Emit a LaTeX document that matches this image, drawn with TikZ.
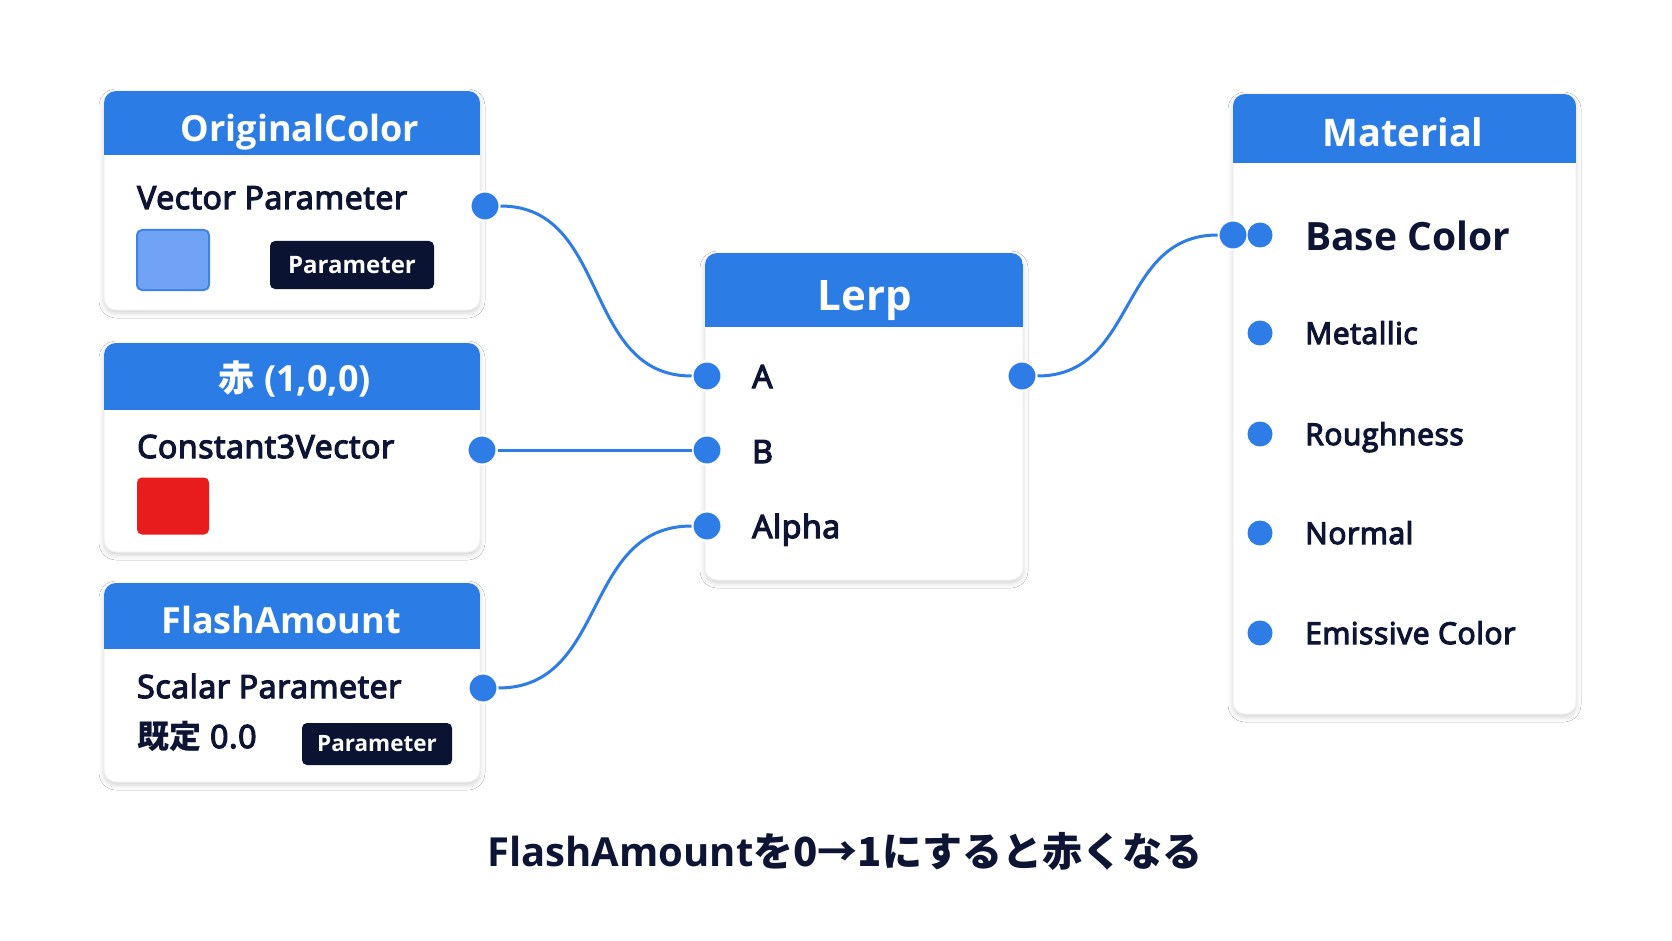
\documentclass[tikz,border=0pt]{standalone}
\usepackage{fontspec}
\setmainfont{Open Sans}
\newfontfamily\medfont[FakeBold=4, LetterSpace=2]{Open Sans}
\newfontfamily\jpfont{Noto Sans CJK JP}
\usetikzlibrary{positioning, calc, shadows.blur}
\definecolor{HeaderBlue}{RGB}{44, 124, 229}
\definecolor{PortBlue}{RGB}{46, 125, 230}
\definecolor{InkNavy}{RGB}{14, 21, 52}
\definecolor{BadgeNavy}{RGB}{10, 20, 50}
\definecolor{SwatchBlue}{RGB}{112, 163, 243}
\definecolor{SwatchEdge}{RGB}{62, 132, 229}
\definecolor{SwatchRed}{RGB}{232, 28, 28}

\tikzset{
  panel/.style={fill=white, draw=black!6, line width=1pt, rounded corners=12pt,
                blur shadow={shadow xshift=0pt, shadow yshift=-3pt, shadow blur radius=5pt, shadow opacity=18}},
  bartitle/.style={text=white, anchor=base, inner sep=0pt, font=\bfseries\fontsize{36}{44}\selectfont},
  bodytext/.style={text=InkNavy, anchor=base west, inner sep=0pt, font=\medfont\fontsize{32}{40}\selectfont},
  badge/.style={fill=BadgeNavy, text=white, rounded corners=5pt, inner sep=0pt,
                font=\bfseries\fontsize{24}{30}\selectfont},
  swatch/.style={rounded corners=5pt, inner sep=0pt, minimum width=72pt},
  port/.style={circle, fill=PortBlue, draw=white, line width=2pt, minimum size=29pt, inner sep=0pt},
  dot/.style={circle, fill=PortBlue, minimum size=25pt, inner sep=0pt},
  wire/.style={draw=PortBlue, line width=3pt},
}

\begin{document}
\begin{tikzpicture}[x=1pt, y=-1pt]
  \useasboundingbox[fill=white] (0,0) rectangle (1672,941);

  % Node panels with their blue title bars
  \foreach \xa/\ya/\xb/\yb/\yh in {104/91/480/310/155, 104/343/480/552/410, 104/583/480/782/649,
                                   705/253/1023/580/327, 1233/94/1576/714/163} {
    \path[panel] (\xa,\ya) rectangle (\xb,\yb);
    \begin{scope}
      \clip[rounded corners=12pt] (\xa,\ya) rectangle (\xb,\yb);
      \fill[HeaderBlue] (\xa,\ya) rectangle (\xb,\yh);
    \end{scope}
  }

  % Titles
  \node[bartitle] (origTitle) at (300,142) {OriginalColor};
  \node[bartitle] (constTitle) at (295,391) {{\jpfont\bfseries 赤} (1,0,0)};
  \node[bartitle] (flashTitle) at (281,633) {FlashAmount};
  \node[bartitle, font=\bfseries\fontsize{42}{50}\selectfont] (lerpTitle) at (865,310) {Lerp};
  \node[bartitle, font=\bfseries\fontsize{38}{46}\selectfont] (matTitle) at (1403,147) {Material};

  % Left hand nodes
  \node[bodytext] (origKind) at (137,209) {Vector Parameter};
  \node[swatch, fill=SwatchBlue, draw=SwatchEdge, line width=2pt, minimum height=60pt] (origSwatch) at (173,260) {};
  \node[badge, minimum width=164pt, minimum height=48pt] (origBadge) at (352,265) {Parameter};
  \node[port] (origOut) at (485,206) {};

  \node[bodytext] (constKind) at (137,458) {Constant3Vector};
  \node[swatch, fill=SwatchRed, minimum height=57pt] (constSwatch) at (173,506) {};
  \node[port] (constOut) at (482,450) {};

  \node[bodytext] (flashKind) at (137,698) {Scalar Parameter};
  \node[bodytext] (flashDefault) at (137,748) {{\jpfont\bfseries 既定} 0.0};
  \node[badge, minimum width=150pt, minimum height=42pt, font=\bfseries\fontsize{22.5}{28}\selectfont] (flashBadge) at (377,744) {Parameter};
  \node[port] (flashOut) at (483,688) {};

  % Lerp node
  \foreach \nm/\txt/\y/\base in {A/A/376/388, B/B/450/463, Alpha/Alpha/526/538} {
    \node[port] (lerp\nm) at (707,\y) {};
    \node[bodytext] (lerp\nm Text) at (752,\base) {\txt};
  }
  \node[port] (lerpOut) at (1022,376) {};

  % Material inputs
  \node[port] (matIn) at (1233,235) {};
  \node[dot] (matBase) at (1260,235) {};
  \node[bodytext, font=\bfseries\fontsize{39}{48}\selectfont] (matBaseText) at (1305,251) {Base Color};
  \foreach \nm/\txt/\y in {Metallic/Metallic/333, Rough/Roughness/434, Normal/Normal/533, Emissive/Emissive Color/633} {
    \node[dot] (mat\nm) at (1260,\y) {};
    \node[bodytext, font=\medfont\fontsize{30}{38}\selectfont] (mat\nm Text) at (1305,\y+11) {\txt};
  }

  % Wires
  \draw[wire] (origOut.east) .. controls +(110,0) and +(-110,0) .. (lerpA.west);
  \draw[wire] (constOut) -- (lerpB);
  \draw[wire] (flashOut.east) .. controls +(110,0) and +(-110,0) .. (lerpAlpha.west);
  \draw[wire] (lerpOut.east) .. controls +(100,0) and +(-100,0) .. (matIn.west);

  % Caption
  \node[anchor=base, inner sep=0pt, text=InkNavy, font=\bfseries\fontsize{40}{48}\selectfont] (note) at (845,866)
    {FlashAmount{\jpfont\bfseries を0→1にすると赤くなる}};
\end{tikzpicture}
\end{document}
